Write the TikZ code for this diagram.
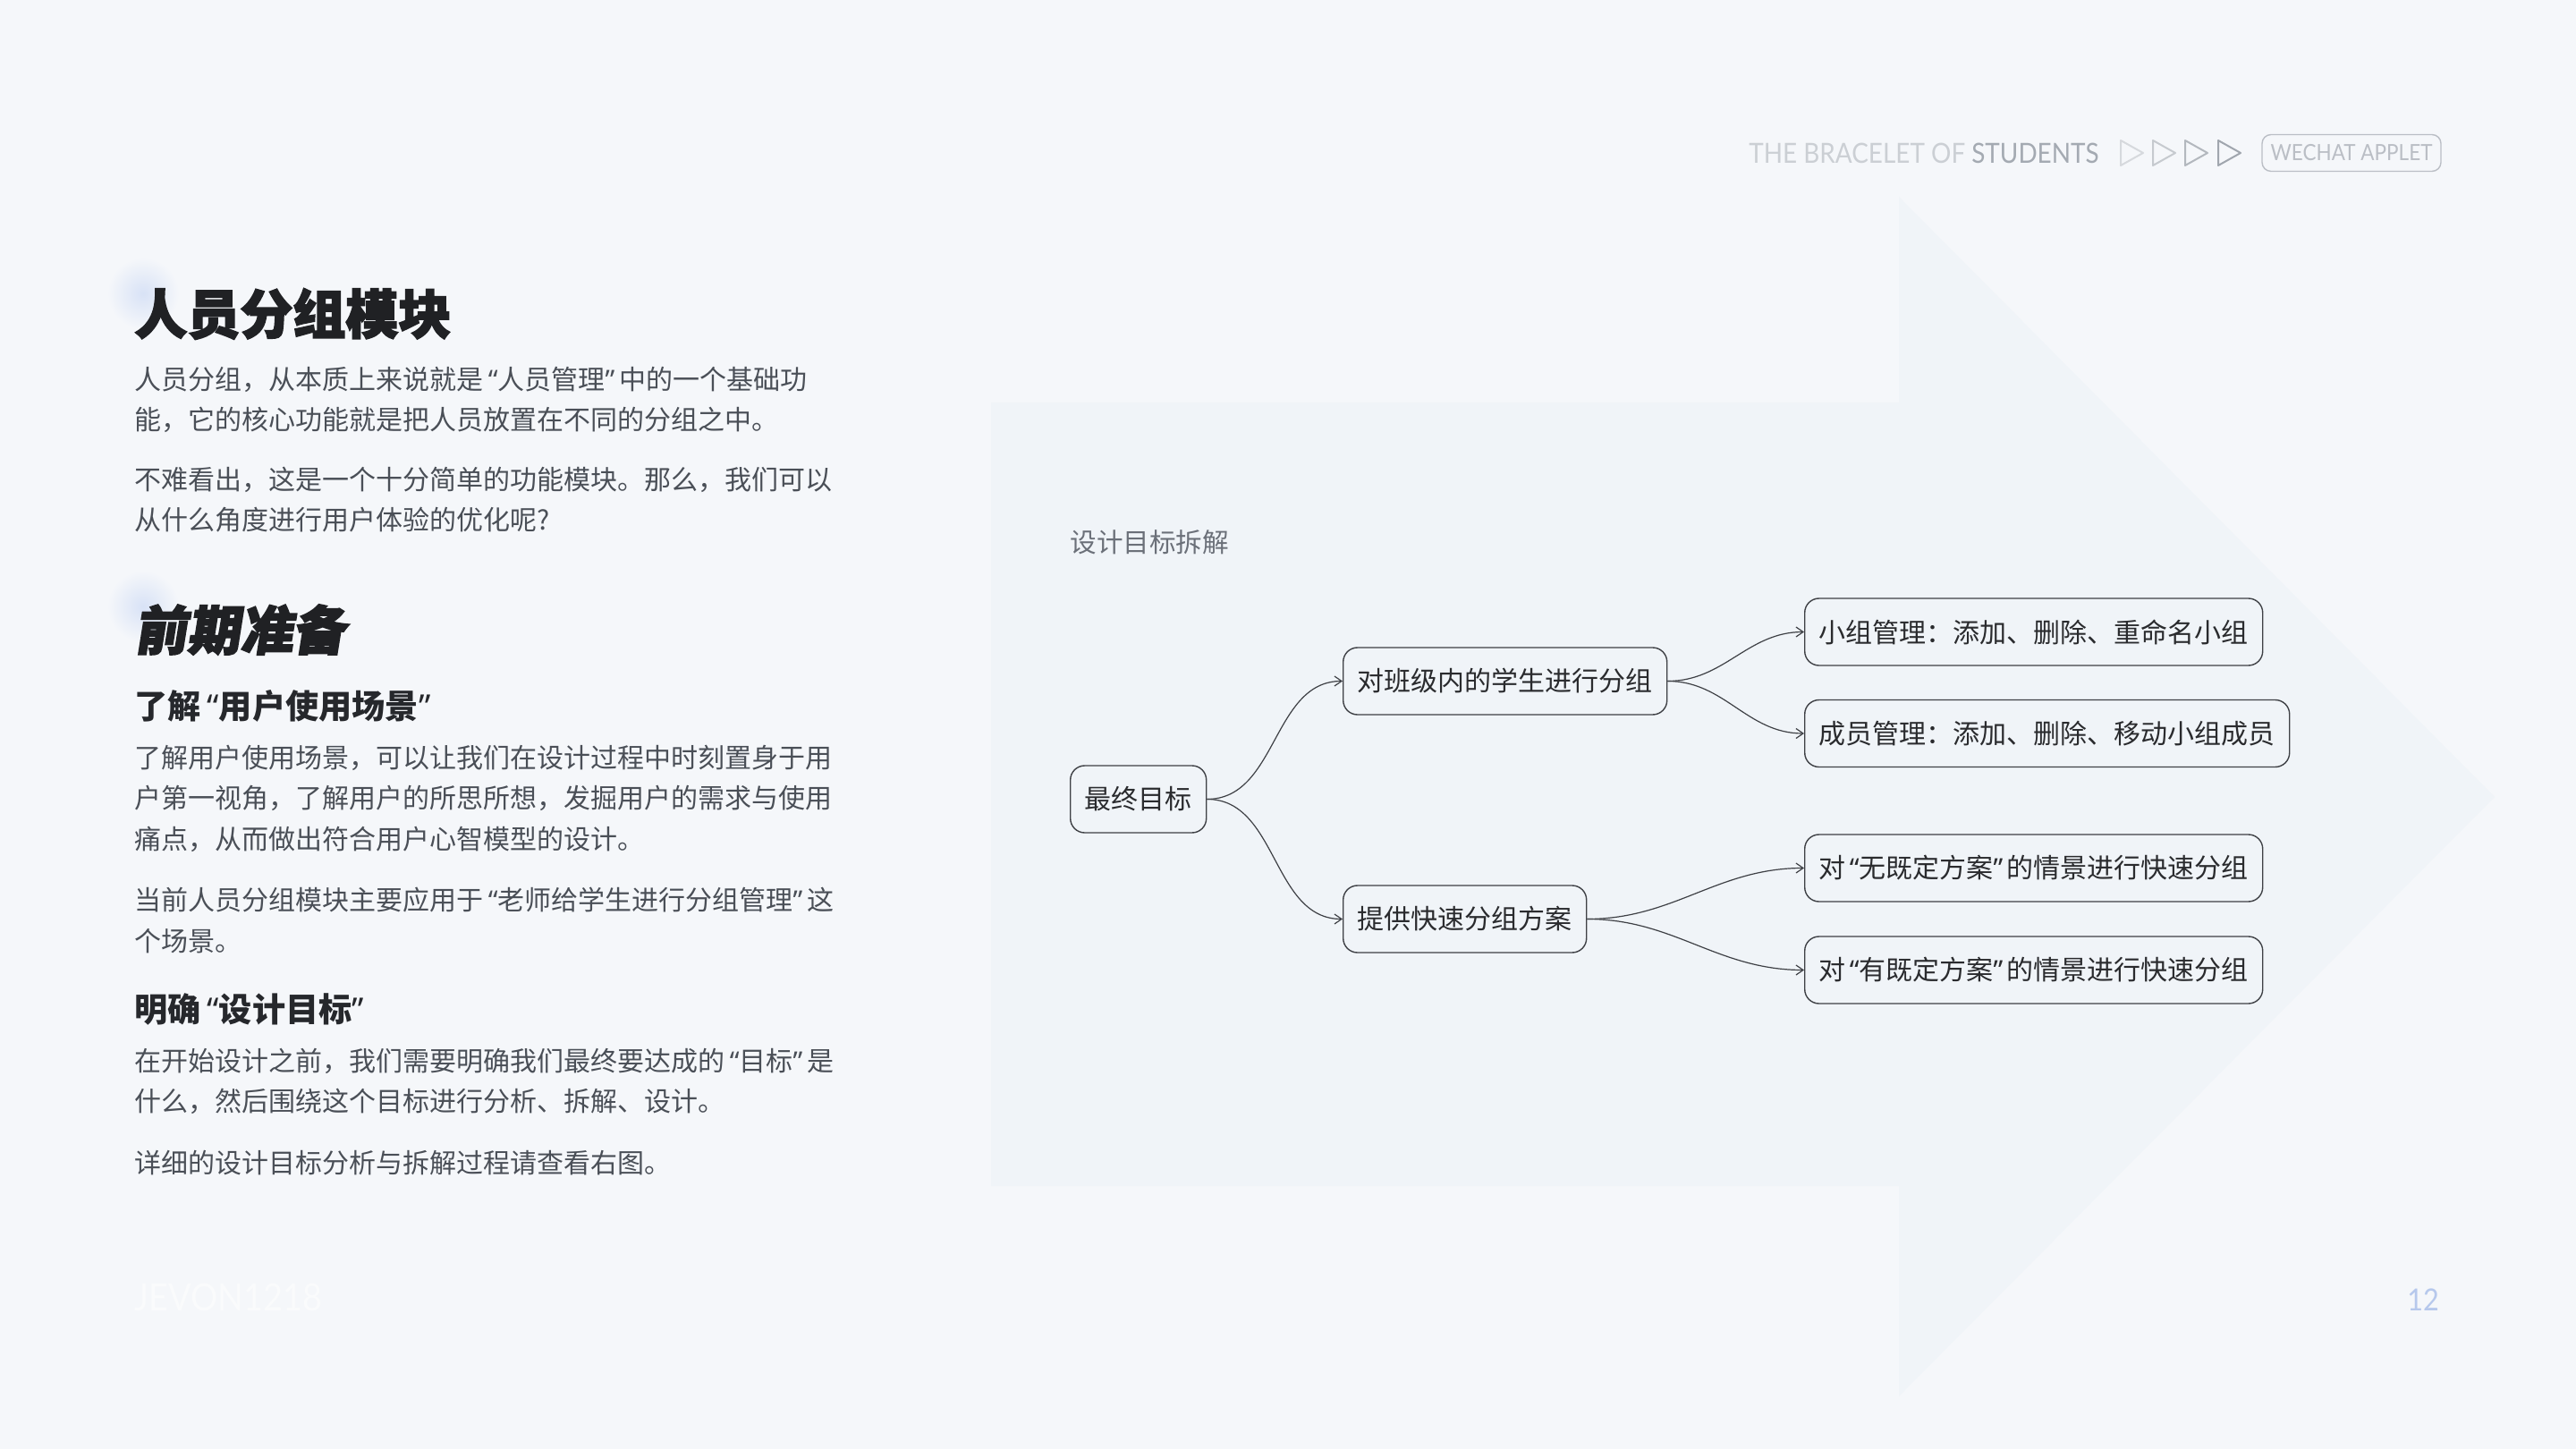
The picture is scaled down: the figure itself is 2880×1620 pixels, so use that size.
\documentclass[tikz,border=0pt]{standalone}
\usepackage{fontspec}
\setmainfont{Noto Sans CJK SC}
\newfontfamily\cjk{Noto Sans CJK SC}
\newfontfamily\cjkheavy[BoldFeatures={FakeBold=2.8}]{Noto Sans CJK SC}
\newfontfamily\cjkslant[BoldFeatures={FakeBold=2.8,FakeSlant=0.16}]{Noto Sans CJK SC}
\newfontfamily\hdrfont[FakeStretch=0.9]{Lato}
\newfontfamily\latq{Noto Sans}
\newcommand\qL{\makebox[0.54em][r]{\latq “}}
\newcommand\qR{\makebox[0.54em][l]{\latq ”}}
\newcommand\mqL{\makebox[0.5em][r]{\latq “}}
\newcommand\mqR{\makebox[0.5em][l]{\latq ”}}
\usetikzlibrary{arrows.meta}
\definecolor{bg}{HTML}{F5F7FA}
\definecolor{panel}{HTML}{F0F4F8}
\definecolor{blobc}{HTML}{D8E2F6}
\definecolor{txt}{HTML}{4A4F57}
\definecolor{ttl}{HTML}{202124}
\definecolor{subc}{HTML}{26282C}
\definecolor{mmtxt}{HTML}{2A2B2E}
\definecolor{mmline}{HTML}{3E4045}
\definecolor{lbl}{HTML}{6B7079}
\definecolor{hdrl}{HTML}{CBCFD4}
\definecolor{hdrd}{HTML}{A4AAB2}
\definecolor{triA}{HTML}{D6D9DD}
\definecolor{triB}{HTML}{C6CACF}
\definecolor{triC}{HTML}{B3B8BE}
\definecolor{triD}{HTML}{A0A6AE}
\definecolor{boxc}{HTML}{BABEC5}
\definecolor{pgnum}{HTML}{B6C8EC}
\definecolor{faint}{HTML}{FAFBFC}
\tikzset{
  bodyline/.style={anchor=west, inner sep=0pt, text=txt, font=\cjk\fontsize{15pt}{18pt}\selectfont},
  bigtitle/.style={anchor=west, inner sep=0pt, text=ttl, font=\cjkheavy\bfseries\fontsize{29.5pt}{34pt}\selectfont},
  slanttitle/.style={anchor=west, inner sep=0pt, text=ttl, font=\cjkslant\bfseries\fontsize{29.5pt}{34pt}\selectfont},
  subhead/.style={anchor=west, inner sep=0pt, text=subc, font=\cjk\bfseries\fontsize{18.6pt}{22pt}\selectfont},
  mmnode/.style={anchor=west, draw=mmline, line width=0.7pt, fill=panel, rounded corners=8pt,
    inner xsep=8pt, inner ysep=0pt, minimum height=37.5pt, text=mmtxt,
    font=\cjk\fontsize{15pt}{18pt}\selectfont},
  conn/.style={draw=mmline, line width=0.6pt, -{Straight Barb[length=4pt,width=5.5pt]}},
  tri/.style={line width=1pt, line join=round},
}
\begin{document}
\begin{tikzpicture}[x=0.5pt,y=-0.5pt]
\useasboundingbox (0,0) rectangle (2880,1620);
\fill[bg] (0,0) rectangle (2880,1620);
% faint background arrow
\fill[panel] (1108,450) -- (2123,450) -- (2123,220) -- (2789,891) -- (2123,1561) -- (2123,1326) -- (1108,1326) -- cycle;
% blobs
\shade[inner color=blobc, outer color=bg] (160,328) circle (40);
\shade[inner color=blobc, outer color=bg] (160,678) circle (40);

% left column
\node[bigtitle] (t1) at (150,351) {人员分组模块};
\node[bodyline] (p1a) at (150,424) {人员分组，从本质上来说就是\qL 人员管理\qR 中的一个基础功};
\node[bodyline] (p1b) at (150,469) {能，它的核心功能就是把人员放置在不同的分组之中。};
\node[bodyline] (p2a) at (150,536) {不难看出，这是一个十分简单的功能模块。那么，我们可以};
\node[bodyline] (p2b) at (150,581) {从什么角度进行用户体验的优化呢?};

\node[slanttitle] (t2) at (150,704) {前期准备};
\node[subhead] (s1) at (150,789) {了解\qL 用户使用场景\qR};
\node[bodyline] (p3a) at (150,847) {了解用户使用场景，可以让我们在设计过程中时刻置身于用};
\node[bodyline] (p3b) at (150,892) {户第一视角，了解用户的所思所想，发掘用户的需求与使用};
\node[bodyline] (p3c) at (150,938) {痛点，从而做出符合用户心智模型的设计。};
\node[bodyline] (p4a) at (150,1006) {当前人员分组模块主要应用于\qL 老师给学生进行分组管理\qR 这};
\node[bodyline] (p4b) at (150,1052) {个场景。};

\node[subhead] (s2) at (150,1128) {明确\qL 设计目标\qR};
\node[bodyline] (p5a) at (150,1186) {在开始设计之前，我们需要明确我们最终要达成的\qL 目标\qR 是};
\node[bodyline] (p5b) at (150,1231) {什么，然后围绕这个目标进行分析、拆解、设计。};
\node[bodyline] (p6) at (150,1300) {详细的设计目标分析与拆解过程请查看右图。};

\node[anchor=west, inner sep=0pt, text=faint, font=\hdrfont\fontsize{21pt}{24pt}\selectfont] (sig) at (150,1450) {JEVON1218};

% header
\node[anchor=east, inner sep=0pt, font=\hdrfont\fontsize{15.5pt}{18pt}\selectfont] (hdr) at (2347,171)
  {\color{hdrl}THE BRACELET OF \color{hdrd}STUDENTS};
\draw[tri, triA] (2371,157) -- (2396,171) -- (2371,185) -- cycle;
\draw[tri, triB] (2407,157) -- (2432,171) -- (2407,185) -- cycle;
\draw[tri, triC] (2443,157) -- (2468,171) -- (2443,185) -- cycle;
\draw[tri, triD] (2480,157) -- (2505,171) -- (2480,185) -- cycle;
\node[draw=boxc, line width=0.7pt, rounded corners=5pt, minimum width=100pt, minimum height=20.5pt,
  inner sep=0pt, text=boxc, font=\hdrfont\fontsize{12.5pt}{14pt}\selectfont] (wx) at (2629,171) {WECHAT APPLET};

\node[text=pgnum, inner sep=0pt, font=\hdrfont\fontsize{17pt}{20pt}\selectfont] (pg) at (2709,1453) {12};

% mind map
\node[anchor=west, inner sep=0pt, text=lbl, font=\cjk\fontsize{14.8pt}{18pt}\selectfont] (mmlabel) at (1196,606) {设计目标拆解};

\node[mmnode] (goal) at (1196,893.5) {最终目标};
\node[mmnode] (n1) at (1501,761.5) {对班级内的学生进行分组};
\node[mmnode] (n2) at (1501,1027.5) {提供快速分组方案};
\node[mmnode] (n11) at (2017,706.5) {小组管理：添加、删除、重命名小组};
\node[mmnode] (n12) at (2017,820) {成员管理：添加、删除、移动小组成员};
\node[mmnode] (n21) at (2017,970.5) {对\mqL 无既定方案\mqR 的情景进行快速分组};
\node[mmnode] (n22) at (2017,1084.5) {对\mqL 有既定方案\mqR 的情景进行快速分组};

\draw[conn] (goal.east) to[out=0,in=180] (n1.west);
\draw[conn] (goal.east) to[out=0,in=180] (n2.west);
\draw[conn] (n1.east) to[out=0,in=180] (n11.west);
\draw[conn] (n1.east) to[out=0,in=180] (n12.west);
\draw[conn] (n2.east) to[out=0,in=180] (n21.west);
\draw[conn] (n2.east) to[out=0,in=180] (n22.west);
\end{tikzpicture}
\end{document}
